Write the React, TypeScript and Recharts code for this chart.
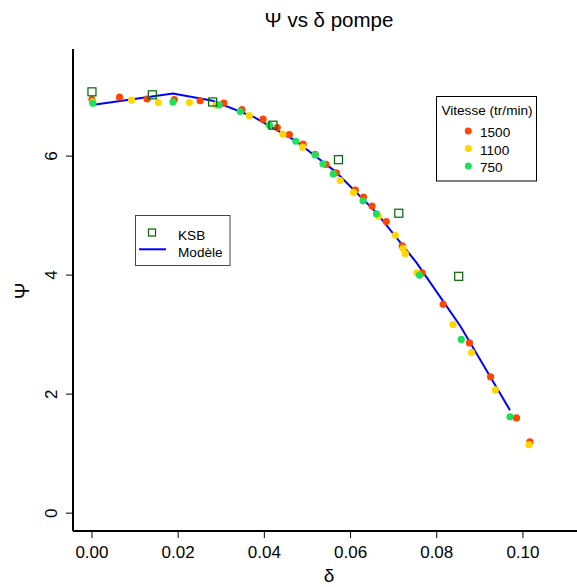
import { ComposedChart, Scatter, Line, XAxis, YAxis, Customized } from 'recharts'

const DELTA_1500 = [0, 0.0064, 0.0128, 0.0191, 0.0251, 0.0306, 0.0348, 0.0397, 0.043, 0.0458, 0.049, 0.0518, 0.0543, 0.0567, 0.0611, 0.063, 0.065, 0.0683, 0.072, 0.0766, 0.0815, 0.0876, 0.0925, 0.0985, 0.1016]
const PSI_1500 = [6.95, 6.99, 6.96, 6.95, 6.93, 6.89, 6.78, 6.62, 6.48, 6.36, 6.2, 6.03, 5.86, 5.72, 5.43, 5.31, 5.16, 4.9, 4.49, 4.04, 3.51, 2.86, 2.29, 1.6, 1.2]

const DELTA_1100 = [0.0002, 0.0092, 0.0154, 0.0226, 0.0288, 0.0365, 0.0443, 0.0489, 0.0576, 0.0607, 0.0665, 0.0704, 0.0722, 0.0727, 0.0754, 0.0838, 0.0881, 0.0936, 0.1014]
const PSI_1100 = [6.91, 6.94, 6.9, 6.9, 6.86, 6.68, 6.37, 6.15, 5.59, 5.39, 4.99, 4.67, 4.45, 4.36, 4.04, 3.17, 2.7, 2.07, 1.15]

const DELTA_750 = [0.0002, 0.0188, 0.0295, 0.0344, 0.0412, 0.0473, 0.0518, 0.0536, 0.056, 0.0629, 0.066, 0.076, 0.0857, 0.097]
const PSI_750 = [6.89, 6.91, 6.86, 6.75, 6.52, 6.25, 6.02, 5.87, 5.7, 5.25, 5.03, 4.0, 2.92, 1.62]

const DELTA_KSB = [0, 0.014, 0.028, 0.042, 0.0572, 0.0712, 0.0851]
const PSI_KSB = [7.08, 7.03, 6.91, 6.52, 5.94, 5.04, 3.98]

const DELTA_MODELE = [0, 0.0188, 0.028, 0.0375, 0.047, 0.0565, 0.066, 0.0753, 0.0855, 0.097]
const PSI_MODELE = [6.86, 7.05, 6.93, 6.66, 6.27, 5.74, 5.05, 4.21, 3.14, 1.73]

const X_TICKS = [0, 0.02, 0.04, 0.06, 0.08, 0.1]
const Y_TICKS = [0, 2, 4, 6]
const VITESSES = ['1500', '1100', '750']

const COLORS = ['#FF4500', '#FFD700', '#1FE05A']
const KSB_COLOR = '#006400'
const FONT = '"Liberation Sans", Arial, Helvetica, sans-serif'

const toPoints = (xs: number[], ys: number[]) => xs.map((x, i) => ({ x, y: ys[i] }))

const dot = (color: string) => (props: any) => (
  <circle cx={props.cx} cy={props.cy} r={3.6} fill={color} />
)

const square = (props: any) => (
  <rect x={props.cx - 4} y={props.cy - 4} width={8} height={8} fill="none" stroke={KSB_COLOR} strokeWidth={1.2} />
)

const XTick = (props: any) => (
  <text x={props.x} y={props.y + 18} textAnchor="middle" fontSize={17} fontFamily={FONT} fill="#000">
    {props.payload.value.toFixed(2)}
  </text>
)

const YTick = (props: any) => {
  const bx = props.x - 7.3
  return (
    <text x={bx} y={props.y} transform={`rotate(-90 ${bx} ${props.y})`} textAnchor="middle" fontSize={17} fontFamily={FONT} fill="#000">
      {props.payload.value}
    </text>
  )
}

function Overlay() {
  return (
    <g fontFamily={FONT} fill="#000">
      <text x={329} y={27} textAnchor="middle" fontSize={20.5}>Ψ vs δ pompe</text>
      <text x={329} y={582} textAnchor="middle" fontSize={19}>δ</text>
      <text x={28.5} y={291} textAnchor="middle" fontSize={20} transform="rotate(-90 28.5 291)">Ψ</text>

      <rect x={436.5} y={96.5} width={100} height={84.5} fill="#fff" stroke="#000" strokeWidth={1} />
      <text x={487} y={115} textAnchor="middle" fontSize={13.6}>Vitesse (tr/min)</text>
      {VITESSES.map((v, i) => (
        <g key={v}>
          <circle cx={468.3} cy={131 + i * 17.5} r={3.5} fill={COLORS[i]} />
          <text x={480} y={137 + i * 17.5} fontSize={13.6}>{v}</text>
        </g>
      ))}

      <rect x={135.5} y={215.5} width={94.5} height={50} fill="#fff" stroke="#444" strokeWidth={1} />
      <rect x={148.5} y={229} width={7} height={7} fill="none" stroke={KSB_COLOR} strokeWidth={1.2} />
      <text x={178} y={240} fontSize={13.6}>KSB</text>
      <line x1={139} y1={249.3} x2={166} y2={249.3} stroke="#0000FF" strokeWidth={2} />
      <text x={178} y={256.5} fontSize={13.6}>Modèle</text>
    </g>
  )
}

export default function App() {
  return (
    <div style={{ position: 'absolute', left: 0, top: 0, width: 577, height: 587, overflow: 'hidden', background: '#fff' }}>
      <ComposedChart width={600} height={587} margin={{ top: 49, right: 15, bottom: 0, left: 0 }}>
        <XAxis
          dataKey="x"
          type="number"
          domain={[-0.0044, 0.1144]}
          ticks={X_TICKS}
          allowDataOverflow
          height={56}
          tickSize={7}
          tick={XTick}
          axisLine={{ stroke: '#000', strokeWidth: 2 }}
          tickLine={{ stroke: '#000', strokeWidth: 1 }}
        />
        <XAxis
          xAxisId="top"
          orientation="top"
          dataKey="x"
          type="number"
          domain={[-0.0044, 0.1144]}
          height={0}
          tick={false}
          tickLine={false}
          axisLine={{ stroke: '#000', strokeWidth: 2 }}
        />
        <YAxis
          dataKey="y"
          type="number"
          domain={[-0.3, 7.8]}
          ticks={Y_TICKS}
          allowDataOverflow
          width={73}
          tickSize={7}
          tick={YTick}
          axisLine={{ stroke: '#000', strokeWidth: 2 }}
          tickLine={{ stroke: '#000', strokeWidth: 1 }}
        />
        <Scatter data={toPoints(DELTA_1500, PSI_1500)} shape={dot(COLORS[0])} isAnimationActive={false} />
        <Scatter data={toPoints(DELTA_1100, PSI_1100)} shape={dot(COLORS[1])} isAnimationActive={false} />
        <Scatter data={toPoints(DELTA_750, PSI_750)} shape={dot(COLORS[2])} isAnimationActive={false} />
        <Line
          data={toPoints(DELTA_MODELE, PSI_MODELE)}
          dataKey="y"
          type="linear"
          stroke="#0000FF"
          strokeWidth={2}
          dot={false}
          activeDot={false}
          isAnimationActive={false}
        />
        <Scatter data={toPoints(DELTA_KSB, PSI_KSB)} shape={square} isAnimationActive={false} />
        <Customized component={Overlay} />
      </ComposedChart>
    </div>
  )
}
